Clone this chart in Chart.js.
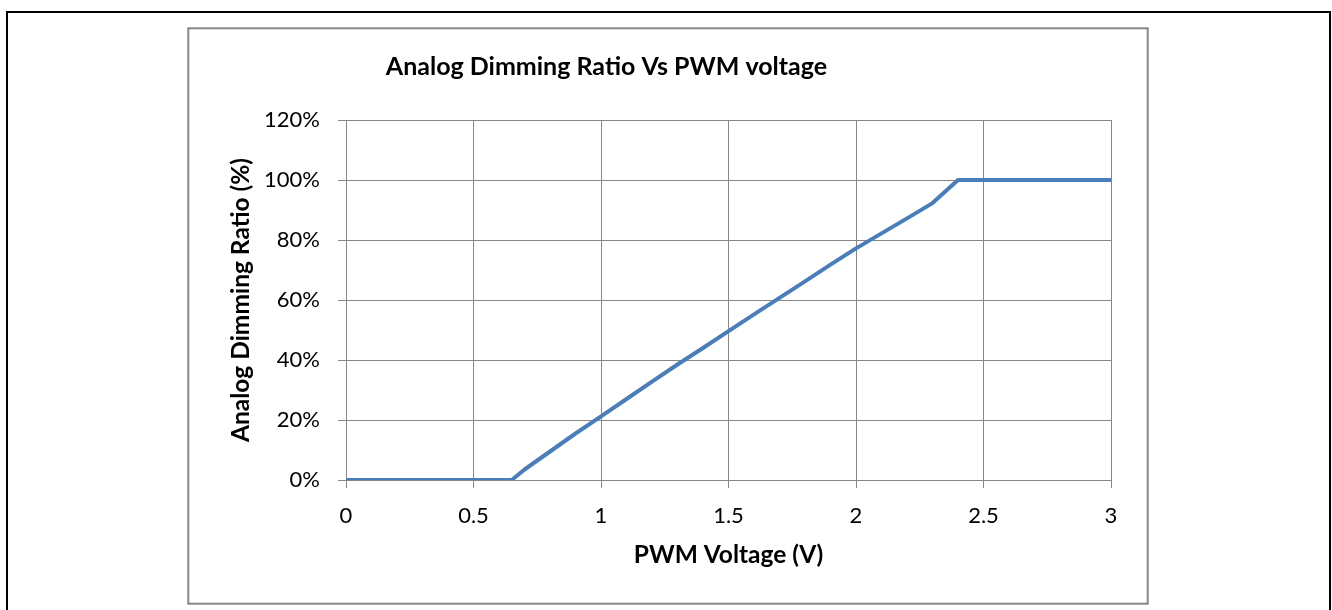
<!DOCTYPE html>
<html>
<head>
<meta charset="utf-8">
<script src="https://cdn.jsdelivr.net/npm/chart.js@4/dist/chart.umd.min.js"></script>
<style>
html, body { margin: 0; padding: 0; background: #fff; }
#wrap { position: relative; width: 1332px; height: 610px; }
</style>
</head>
<body>
<div id="wrap"><canvas id="myChart" width="1332" height="610"></canvas></div>
<script>
var voltage = [0, 0.65, 0.7, 0.8, 0.9, 1.0, 1.1, 1.2, 1.3, 1.4, 1.5, 1.6, 1.7, 1.8, 1.9, 2.0, 2.1, 2.2, 2.3, 2.4, 2.5, 2.6, 2.7, 2.8, 2.9, 3.0];
var ratio = [0, 0, 3.5, 9.5, 15.5, 21.2, 27, 32.8, 38.5, 44, 49.6, 55.2, 60.7, 66.2, 71.8, 77.2, 82.2, 87.2, 92.3, 100, 100, 100, 100, 100, 100, 100];
var xTicks = [0, 0.5, 1, 1.5, 2, 2.5, 3];
var yTicks = [0, 20, 40, 60, 80, 100, 120];

var FONT = 'Lato';
var gridColor = '#868686';

// frame around the page and the chart box
var framePlugin = {
  id: 'frame',
  beforeDraw: function (chart) {
    var ctx = chart.ctx;
    ctx.save();
    ctx.lineWidth = 2;
    ctx.strokeStyle = '#000';
    ctx.strokeRect(7, 12, 1323, 700);
    ctx.strokeStyle = gridColor;
    ctx.strokeRect(188.3, 28.3, 959.4, 575.4);
    ctx.restore();
  }
};

var data = {
  datasets: [{
    label: 'Analog Dimming Ratio',
    data: voltage.map(function (v, i) { return { x: v, y: ratio[i] }; }),
    showLine: true,
    borderColor: '#4A7EBB',
    backgroundColor: '#4A7EBB',
    borderWidth: 4,
    pointRadius: 0,
    borderJoinStyle: 'round',
    borderCapStyle: 'square',
    tension: 0
  }]
};

var config = {
  type: 'scatter',
  data: data,
  options: {
    responsive: false,
    animation: false,
    devicePixelRatio: 1,
    layout: { padding: { left: 102, right: 221, top: 0, bottom: 0 } },
    plugins: {
      legend: { display: false },
      tooltip: { enabled: false },
      title: {
        display: true,
        text: 'Analog Dimming Ratio Vs PWM voltage',
        color: '#000',
        font: { family: FONT, size: 25, weight: 'bold' },
        padding: { top: 52, bottom: 38 }
      }
    },
    scales: {
      x: {
        type: 'linear',
        min: 0,
        max: 3,
        afterBuildTicks: function (scale) {
          scale.ticks = xTicks.map(function (v) { return { value: v }; });
        },
        afterFit: function (scale) {
          scale.height = 130;
          scale.paddingLeft = 0;
          scale.paddingRight = 0;
        },
        grid: { color: gridColor, lineWidth: 1, tickLength: 8 },
        border: { color: gridColor },
        ticks: {
          color: '#000',
          padding: 15,
          maxRotation: 0,
          font: { family: FONT, size: 22 },
          callback: function (v) { return String(v); }
        },
        title: {
          display: true,
          text: 'PWM Voltage (V)',
          color: '#000',
          font: { family: FONT, size: 24.5, weight: 'bold' },
          padding: { top: 0, bottom: 39.8 }
        }
      },
      y: {
        type: 'linear',
        min: 0,
        max: 120,
        afterBuildTicks: function (scale) {
          scale.ticks = yTicks.map(function (v) { return { value: v }; });
        },
        afterFit: function (scale) {
          scale.width = 244;
          scale.paddingTop = 0;
          scale.paddingBottom = 0;
        },
        grid: { color: gridColor, lineWidth: 1, tickLength: 8 },
        border: { color: gridColor },
        ticks: {
          color: '#000',
          padding: 18,
          font: { family: FONT, size: 22 },
          callback: function (v) { return v + '%'; }
        },
        title: {
          display: true,
          text: 'Analog Dimming Ratio (%)',
          color: '#000',
          font: { family: FONT, size: 24.5, weight: 'bold' },
          padding: { top: 124.3, bottom: 0 }
        }
      }
    }
  },
  plugins: [framePlugin]
};

var myChart = new Chart(document.getElementById('myChart'), config);
</script>
</body>
</html>
